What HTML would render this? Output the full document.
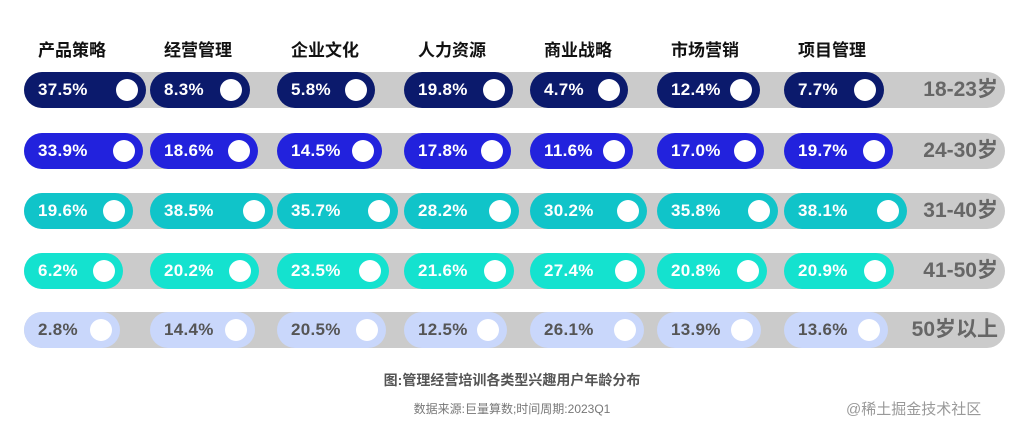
<!DOCTYPE html>
<html><head><meta charset="utf-8"><style>
body{margin:0;width:1024px;height:433px;background:#fff;font-family:"Liberation Sans","Noto Sans CJK SC",sans-serif;position:relative;overflow:hidden}
.h{position:absolute;top:36px;font-weight:bold;font-size:17px;color:#111}
.bar{position:absolute;left:24px;width:981px;height:36px;border-radius:18px;background:#cbcbcb}
.p{position:absolute;height:36px;border-radius:18px;box-sizing:border-box;padding-left:14px;line-height:36px;font-weight:bold;font-size:17px;color:#fff;letter-spacing:0.3px}
.p i{position:absolute;right:8px;top:7px;width:22px;height:22px;border-radius:50%;background:#fff}
.age{position:absolute;right:26px;font-weight:bold;font-size:21px;color:#666;line-height:36px}
</style></head><body>
<div id="c"></div>
<div style="position:absolute;top:370px;width:1024px;text-align:center;font-weight:bold;font-size:14px;color:#555">图:管理经营培训各类型兴趣用户年龄分布</div>
<div style="position:absolute;top:400px;width:1024px;text-align:center;font-size:12px;color:#777">数据来源:巨量算数;时间周期:2023Q1</div>
<div style="position:absolute;top:398px;left:846px;font-size:15px;color:#999">@稀土掘金技术社区</div>
<script>
const cols=[24,150,277,404,530,657,784];
const heads=["产品策略","经营管理","企业文化","人力资源","商业战略","市场营销","项目管理"];
const rows=[
{y:72,c:"#0b1a6c",t:"#fff",a:"18-23岁",v:[37.5,8.3,5.8,19.8,4.7,12.4,7.7]},
{y:133,c:"#2222dd",t:"#fff",a:"24-30岁",v:[33.9,18.6,14.5,17.8,11.6,17.0,19.7]},
{y:193,c:"#10c4c9",t:"#fff",a:"31-40岁",v:[19.6,38.5,35.7,28.2,30.2,35.8,38.1]},
{y:253,c:"#14e2cf",t:"#fff",a:"41-50岁",v:[6.2,20.2,23.5,21.6,27.4,20.8,20.9]},
{y:312,c:"#c9d7fb",t:"#555",a:"50岁以上",v:[2.8,14.4,20.5,12.5,26.1,13.9,13.6]}];
let h="";
heads.forEach((s,i)=>h+=`<div class="h" style="left:${cols[i]+14}px">${s}</div>`);
rows.forEach(r=>{
h+=`<div class="bar" style="top:${r.y}px"></div>`;
r.v.forEach((v,i)=>{const w=Math.round(94+0.75*v);
h+=`<div class="p" style="top:${r.y}px;left:${cols[i]}px;width:${w}px;background:${r.c};color:${r.t}">${v.toFixed(1)}%<i></i></div>`;});
h+=`<div class="age" style="top:${r.y}px">${r.a}</div>`;});
document.getElementById("c").innerHTML=h;
</script>
</body></html>
